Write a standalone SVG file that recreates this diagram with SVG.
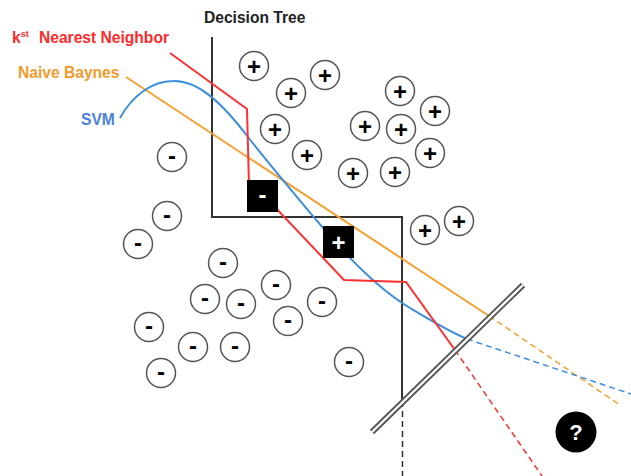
<svg xmlns="http://www.w3.org/2000/svg" width="631" height="476" viewBox="0 0 631 476">
  <style>
    .pt { fill: #fff; stroke: #555; stroke-width: 1.5; }
    .sg { font-family: "Liberation Sans", Arial, sans-serif; font-weight: bold; font-size: 24px; text-anchor: middle; fill: #000; }
    .sgw { font-family: "Liberation Sans", Arial, sans-serif; font-weight: bold; font-size: 24px; text-anchor: middle; fill: #fff; }
    .lbl { font-family: "Liberation Sans", Arial, sans-serif; font-weight: bold; font-size: 15.6px; }
    .tree { fill: none; stroke: #333; stroke-width: 2; }
    .knn { fill: none; stroke: #ff3030; stroke-width: 2; stroke-linejoin: miter; }
    .nb { fill: none; stroke: #f5a030; stroke-width: 2; }
    .svm { fill: none; stroke: #3d8fdc; stroke-width: 2; }
    .dash { stroke-dasharray: 6 4; stroke-width: 1.5; }
  </style>

  <!-- classifier boundaries -->
  <g id="connectors">
    <!-- decision tree -->
    <polyline class="tree" points="212,37 212,217 402,217 402,401"/>
    <line class="tree dash" x1="402.5" y1="401" x2="402.5" y2="476" stroke="#555"/>
    <!-- naive bayes -->
    <line class="nb" x1="126" y1="77" x2="489" y2="316"/>
    <line class="nb dash" x1="489" y1="316" x2="620" y2="405" stroke="#f5bb70"/>
    <!-- svm -->
    <path class="svm" d="M120,118 C132,96 152,81 173,81 C198,80 222,103 248,137 C265,159 310,213 330,236 C350,259 380,290 410,308 C430,320 448,331 467,339"/>
    <line class="svm dash" x1="467" y1="339" x2="631" y2="394" stroke="#8fb8ef"/>
    <!-- k-nearest neighbour -->
    <polyline class="knn" points="170,53 247,109 249,185 272,204 344,280 406,282 455,350"/>
    <line class="knn dash" x1="455" y1="350" x2="542" y2="476" stroke="#f58080"/>
    <!-- separating boundary (double rule) -->
    <line x1="372" y1="432" x2="523" y2="285" stroke="#555" stroke-width="6"/>
    <line x1="372" y1="432" x2="523" y2="285" stroke="#fff" stroke-width="2.2"/>
  </g>

  <!-- labels -->
  <g id="labels">
    <text id="lbl-tree" class="lbl" x="204" y="23" fill="#222">Decision Tree</text>
    <text id="lbl-knn" class="lbl" x="12" y="43" fill="#ff2a2a">k<tspan font-size="9" dy="-6">st</tspan><tspan x="39" dy="6">Nearest Neighbor</tspan></text>
    <text id="lbl-nb" class="lbl" x="18" y="78" fill="#f39a2c">Naive Baynes</text>
    <text id="lbl-svm" class="lbl" x="81" y="125" fill="#4a80e0">SVM</text>
  </g>

  <!-- positive samples -->
  <g id="p1"><circle class="pt" cx="254" cy="66" r="14.5"/><text class="sg" x="254" y="74.5">+</text></g>
  <g id="p2"><circle class="pt" cx="291" cy="93" r="14.5"/><text class="sg" x="291" y="101.5">+</text></g>
  <g id="p3"><circle class="pt" cx="325" cy="75" r="14.5"/><text class="sg" x="325" y="83.5">+</text></g>
  <g id="p4"><circle class="pt" cx="275" cy="129" r="14.5"/><text class="sg" x="275" y="137.5">+</text></g>
  <g id="p5"><circle class="pt" cx="307" cy="155" r="14.5"/><text class="sg" x="307" y="163.5">+</text></g>
  <g id="p6"><circle class="pt" cx="400" cy="91" r="14.5"/><text class="sg" x="400" y="99.5">+</text></g>
  <g id="p7"><circle class="pt" cx="435" cy="111" r="14.5"/><text class="sg" x="435" y="119.5">+</text></g>
  <g id="p8"><circle class="pt" cx="365" cy="126" r="14.5"/><text class="sg" x="365" y="134.5">+</text></g>
  <g id="p9"><circle class="pt" cx="401" cy="129" r="14.5"/><text class="sg" x="401" y="137.5">+</text></g>
  <g id="p10"><circle class="pt" cx="430" cy="153" r="14.5"/><text class="sg" x="430" y="161.5">+</text></g>
  <g id="p11"><circle class="pt" cx="353" cy="173" r="14.5"/><text class="sg" x="353" y="181.5">+</text></g>
  <g id="p12"><circle class="pt" cx="395" cy="172" r="14.5"/><text class="sg" x="395" y="180.5">+</text></g>
  <g id="p13"><circle class="pt" cx="425" cy="230" r="14.5"/><text class="sg" x="425" y="238.5">+</text></g>
  <g id="p14"><circle class="pt" cx="459" cy="221" r="14.5"/><text class="sg" x="459" y="229.5">+</text></g>

  <!-- negative samples -->
  <g id="n1"><circle class="pt" cx="172" cy="157" r="14.5"/><text class="sg" x="172" y="164">-</text></g>
  <g id="n2"><circle class="pt" cx="167" cy="216" r="14.5"/><text class="sg" x="167" y="223">-</text></g>
  <g id="n3"><circle class="pt" cx="138" cy="244" r="14.5"/><text class="sg" x="138" y="251">-</text></g>
  <g id="n4"><circle class="pt" cx="223" cy="263" r="14.5"/><text class="sg" x="223" y="270">-</text></g>
  <g id="n5"><circle class="pt" cx="205" cy="299" r="14.5"/><text class="sg" x="205" y="306">-</text></g>
  <g id="n6"><circle class="pt" cx="241" cy="304" r="14.5"/><text class="sg" x="241" y="311">-</text></g>
  <g id="n7"><circle class="pt" cx="276" cy="285" r="14.5"/><text class="sg" x="276" y="292">-</text></g>
  <g id="n8"><circle class="pt" cx="288" cy="321" r="14.5"/><text class="sg" x="288" y="328">-</text></g>
  <g id="n9"><circle class="pt" cx="322" cy="302" r="14.5"/><text class="sg" x="322" y="309">-</text></g>
  <g id="n10"><circle class="pt" cx="149" cy="327" r="14.5"/><text class="sg" x="149" y="334">-</text></g>
  <g id="n11"><circle class="pt" cx="193" cy="347" r="14.5"/><text class="sg" x="193" y="354">-</text></g>
  <g id="n12"><circle class="pt" cx="235" cy="347" r="14.5"/><text class="sg" x="235" y="354">-</text></g>
  <g id="n13"><circle class="pt" cx="161" cy="373" r="14.5"/><text class="sg" x="161" y="380">-</text></g>
  <g id="n14"><circle class="pt" cx="349" cy="362" r="14.5"/><text class="sg" x="349" y="369">-</text></g>

  <!-- highlighted samples -->
  <g id="sq-neg"><rect x="247" y="180" width="31" height="32" fill="#000"/><text class="sgw" x="262.5" y="203">-</text></g>
  <g id="sq-pos"><rect x="323" y="226" width="31" height="32" fill="#000"/><text class="sgw" x="338.5" y="250.5">+</text></g>

  <!-- unknown sample -->
  <g id="query"><circle cx="576" cy="432" r="20.5" fill="#000"/><text x="576" y="440" font-family="Liberation Sans, Arial, sans-serif" font-weight="bold" font-size="22" text-anchor="middle" fill="#fff">?</text></g>
</svg>
